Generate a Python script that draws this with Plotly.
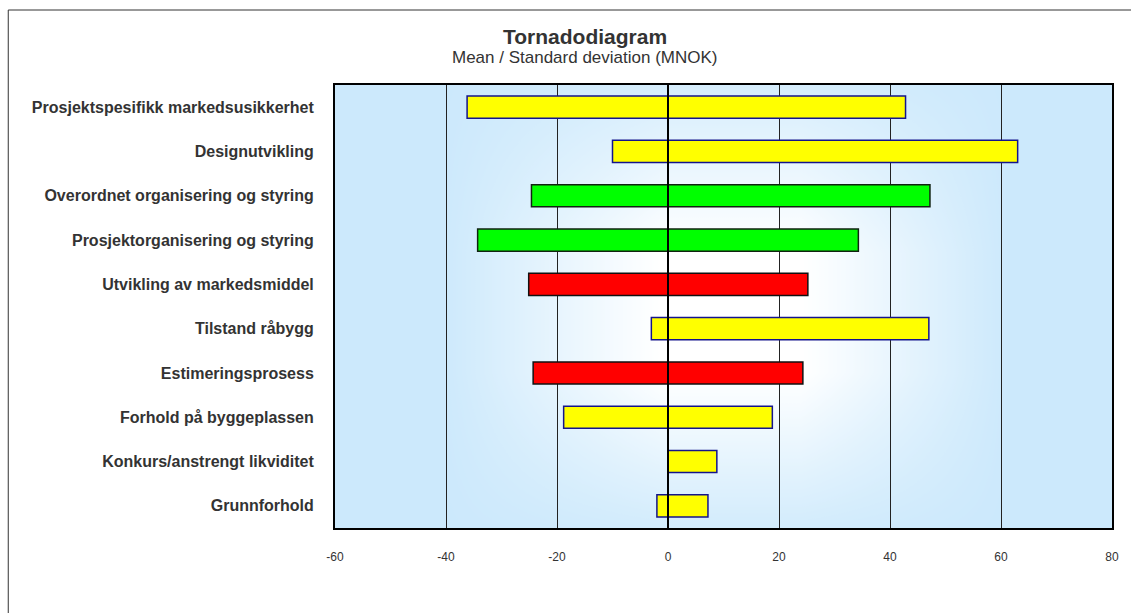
import base64
import plotly.graph_objects as go

# ---------------- data ----------------
categories = [
    "Prosjektspesifikk markedsusikkerhet",
    "Designutvikling",
    "Overordnet organisering og styring",
    "Prosjektorganisering og styring",
    "Utvikling av markedsmiddel",
    "Tilstand råbygg",
    "Estimeringsprosess",
    "Forhold på byggeplassen",
    "Konkurs/anstrengt likviditet",
    "Grunnforhold",
]
low_values = [-36.2, -10.0, -24.6, -34.3, -25.1, -3.0, -24.3, -18.8, 0.0, -2.0]
high_values = [42.8, 63.0, 47.2, 34.3, 25.2, 47.0, 24.3, 18.8, 8.8, 7.2]
risk_class = ["gul", "gul", "grønn", "grønn", "rød", "gul", "rød", "gul", "gul", "gul"]
x_ticks = [-60, -40, -20, 0, 20, 40, 60, 80]
x_tick_labels = ["-60", "-40", "-20", "0", "20", "40", "60", "80"]

title_text = "Tornadodiagram"
subtitle_text = "Mean / Standard deviation (MNOK)"

# ---------------- styling ----------------
fill_map = {"gul": "#FFFF00", "grønn": "#00FF00", "rød": "#FF0000"}
line_map = {"gul": "#14148C", "grønn": "#112211", "rød": "#111111"}
FONT = "Liberation Sans, Arial, sans-serif"

fig = go.Figure()
for cls in ["gul", "grønn", "rød"]:
    idx = [i for i, c in enumerate(risk_class) if c == cls]
    fig.add_trace(go.Bar(
        y=[categories[i] for i in idx],
        x=[high_values[i] - low_values[i] for i in idx],
        base=[low_values[i] for i in idx],
        orientation="h",
        width=0.5,
        marker=dict(color=fill_map[cls], line=dict(color=line_map[cls], width=1.5)),
        showlegend=False,
        hoverinfo="skip",
    ))

# background gradient (Excel-like "from center" fill) as inline SVG
W, H = 780, 443
svg = f'''<svg xmlns="http://www.w3.org/2000/svg" width="{W}" height="{H}" viewBox="0 0 {W} {H}" preserveAspectRatio="none">
<defs>
<linearGradient id="gh" x1="0" y1="0" x2="1" y2="0">
<stop offset="0" stop-color="#000"/><stop offset="0.13" stop-color="#000"/>
<stop offset="0.42" stop-color="#fff"/><stop offset="0.60" stop-color="#fff"/>
<stop offset="0.87" stop-color="#000"/><stop offset="1" stop-color="#000"/>
</linearGradient>
<linearGradient id="gv" x1="0" y1="0" x2="0" y2="1">
<stop offset="0" stop-color="#333"/><stop offset="0.38" stop-color="#fff"/>
<stop offset="0.65" stop-color="#fff"/><stop offset="1" stop-color="#222"/>
</linearGradient>
<mask id="mh"><rect x="0" y="0" width="{W}" height="{H}" fill="url(#gh)"/></mask>
<mask id="mv"><rect x="0" y="0" width="{W}" height="{H}" fill="url(#gv)"/></mask>
</defs>
<rect x="0" y="0" width="{W}" height="{H}" fill="#CCE9FC"/>
<g mask="url(#mv)"><rect x="0" y="0" width="{W}" height="{H}" fill="#FFFFFF" mask="url(#mh)"/></g>
</svg>'''
uri = "data:image/svg+xml;base64," + base64.b64encode(svg.encode()).decode()
fig.add_layout_image(dict(source=uri, xref="paper", yref="paper", x=0, y=1,
                          sizex=1, sizey=1, sizing="stretch", layer="below",
                          xanchor="left", yanchor="top"))

# zero line above the bars
fig.add_shape(type="line", xref="x", yref="paper", x0=0, x1=0, y0=0, y1=1,
              line=dict(color="#000000", width=2), layer="above")

# outer chart frame
L, R, T, B = 335, 16, 85, 85
pw, ph = 1131 - L - R, 613 - T - B
def px(x): return (x - L) / pw
def py(y): return (613 - B - y) / ph
fig.add_shape(type="rect", xref="paper", yref="paper",
              x0=px(7), x1=px(1150), y0=py(630), y1=py(10),
              line=dict(color="#333333", width=1), fillcolor="rgba(0,0,0,0)", layer="below")

fig.add_annotation(text=f"<b>{title_text}</b>", xref="paper", yref="paper",
                   x=px(586), y=py(36), xanchor="center", yanchor="middle",
                   showarrow=False, font=dict(family=FONT, size=21, color="#333333"))
fig.add_annotation(text=subtitle_text, xref="paper", yref="paper",
                   x=px(586), y=py(57), xanchor="center", yanchor="middle",
                   showarrow=False, font=dict(family=FONT, size=17, color="#333333"))

fig.update_layout(
    width=1131, height=613,
    margin=dict(l=L, r=R, t=T, b=B),
    paper_bgcolor="#FFFFFF",
    plot_bgcolor="rgba(0,0,0,0)",
    barmode="overlay",
    font=dict(family=FONT, color="#333333"),
    xaxis=dict(range=[-60, 80], tickvals=x_ticks, ticktext=x_tick_labels,
               showgrid=True, gridcolor="#222222",
               gridwidth=1, zeroline=False, showline=True, linecolor="#000000",
               linewidth=2, mirror=True, ticks="", ticklabelstandoff=17,
               tickfont=dict(family=FONT, size=12, color="#333333")),
    yaxis=dict(categoryorder="array", categoryarray=categories, autorange="reversed",
               showgrid=False, zeroline=False, showline=True,
               linecolor="#000000", linewidth=2, mirror=True, ticks="",
               ticklabelstandoff=16,
               tickfont=dict(family=FONT, size=16, color="#333333", weight="bold")),
)

fig.write_html("out.html", config={"displayModeBar": False},
               post_script="document.body.style.margin='0';document.body.style.overflow='hidden';")
